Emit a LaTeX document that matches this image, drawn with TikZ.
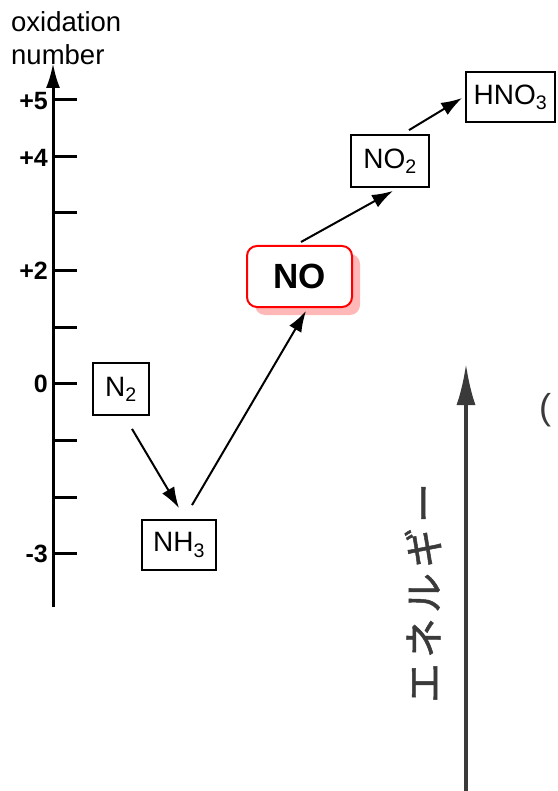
\documentclass[tikz,border=0pt]{standalone}
\usepackage{fontspec}
\setmainfont{Liberation Sans}
\newfontfamily\jpfont[FakeBold=1.2]{Noto Sans CJK JP}
\usetikzlibrary{arrows.meta,calc}
\definecolor{shadowpink}{HTML}{FFB8B8}
\definecolor{scan}{HTML}{3A3A3A}
\begin{document}
\begin{tikzpicture}[x=1pt,y=-1pt,
  species/.style={draw=black,line width=1.8pt,inner sep=0pt,font=\fontsize{28}{32}\selectfont},
  reaction/.style={line width=2pt,-{Latex[length=21pt,width=14pt]}},
  tick/.style={line width=3pt},
  level/.style={anchor=east,inner sep=0pt,font=\fontsize{25}{28}\selectfont\bfseries}]
\useasboundingbox (0,0) rectangle (557,791);
\fill[white] (0,0) rectangle (557,791);

% axis
\coordinate (axbot) at (53,607);
\coordinate (axtop) at (53,63);
\draw[line width=3pt,-{Latex[length=25pt,width=14pt]}] (axbot) -- (axtop);
\node[anchor=north west,inner sep=0pt,align=left,font=\fontsize{27.5}{33}\selectfont] (axlabel) at (11,11) {oxidation\\number};

\foreach \yy in {100,157,213,270,327,383,440,497,553}
  \draw[tick] (53,\yy) -- (77,\yy);
\node[level] (l5) at (48,101) {+5};
\node[level] (l4) at (48,158) {+4};
\node[level] (l2) at (48,271) {+2};
\node[level] (l0) at (48,384) {0};
\node[level] (lm3) at (48,554) {-3};

% species
\node[species,minimum width=56pt,minimum height=52pt] (N2) at (121,389) {N\textsubscript{2}};
\node[species,minimum width=74pt,minimum height=50pt] (NH3) at (179,545) {NH\textsubscript{3}};
\node[species,minimum width=78pt,minimum height=52pt] (NO2) at (390,161) {NO\textsubscript{2}};
\node[species,minimum width=89pt,minimum height=50pt] (HNO3) at (510.5,97) {HNO\textsubscript{3}};
\fill[shadowpink,rounded corners=10pt] (255,254) rectangle (360,315);
\node[draw=red,fill=white,line width=2pt,rounded corners=10pt,minimum width=105pt,minimum height=61pt,inner sep=0pt,font=\fontsize{35}{40}\selectfont\bfseries] (NO) at (299.5,276.5) {NO};

% reactions
\draw[reaction] ($(N2.south)+(11,13)$) -- ($(NH3.north)+(0,-11)$);
\draw[reaction] ($(NH3.north)+(13,-14)$) -- ($(NO.south)+(6.5,3)$);
\draw[reaction] ($(NO.north)+(1.5,-3)$) -- ($(NO2.south)+(3,3)$);
\draw[reaction] ($(NO2.north)+(19,-4)$) -- ($(HNO3.west)+(-3,1)$);

% scanned energy axis
\coordinate (enbot) at (466,791);
\coordinate (entop) at (466,364);
\draw[scan,line width=3.5pt,-{Latex[length=41pt,width=19pt]}] (enbot) -- (entop);
\node[scan,rotate=90,inner sep=0pt,font=\jpfont\fontsize{40}{44}\selectfont] (energy) at (423,593) {エ\hspace{5pt}ネ\hspace{5pt}ル\hspace{5pt}ギ\hspace{5pt}ー};
\node[scan,inner sep=0pt,font=\fontsize{36}{40}\selectfont] (paren) at (545,410) {(};
\end{tikzpicture}
\end{document}
